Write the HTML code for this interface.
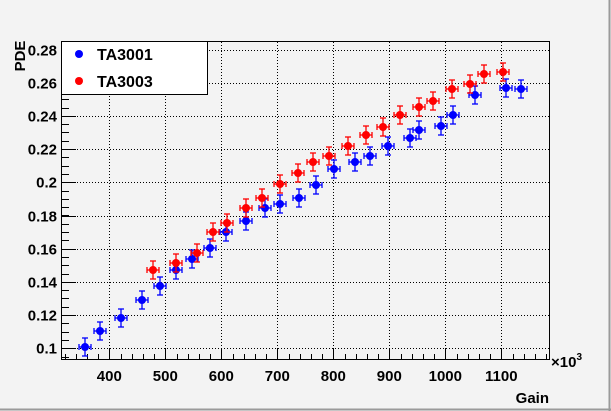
<!DOCTYPE html>
<html><head><style>body{margin:0;background:#f3f3f3}svg{display:block}</style></head>
<body>
<svg width="611" height="411" viewBox="0 0 611 411" xmlns="http://www.w3.org/2000/svg" font-family="Liberation Sans, sans-serif" font-weight="bold">
<rect width="611" height="411" fill="#f3f3f3"/>
<line x1="0" y1="409.5" x2="611" y2="409.5" stroke="#9a9a9a" stroke-width="2"/>
<line x1="609.5" y1="0" x2="609.5" y2="411" stroke="#9a9a9a" stroke-width="2"/>
<g id="grid" stroke="#000" stroke-width="1" stroke-dasharray="1,2"></g>
<rect x="61.5" y="41.5" width="488" height="318" fill="none" stroke="#000"/>
<g id="ticks" stroke="#000"></g>
<g id="labels" font-size="15" font-weight="bold"></g>
<text x="25" y="56" font-size="15" font-weight="bold" transform="rotate(-90 25 56)" text-anchor="middle">PDE</text>
<text x="549" y="403" font-size="15" font-weight="bold" text-anchor="end">Gain</text>
<text x="551" y="367" font-size="15" font-weight="bold">×10<tspan dy="-7" font-size="10">3</tspan></text>
<g id="data"></g>
<rect x="61.5" y="41.5" width="146" height="53" fill="#fff" stroke="#000"/>
<circle cx="79" cy="54" r="4" fill="#0000ff"/>
<circle cx="79" cy="81" r="4" fill="#ff0000"/>
<text x="97" y="60" font-size="16" font-weight="bold">TA3001</text>
<text x="97" y="87" font-size="16" font-weight="bold">TA3003</text>
</svg>
<script>
var ns="http://www.w3.org/2000/svg";
function el(p,t,a){var e=document.createElementNS(ns,t);for(var k in a)e.setAttribute(k,a[k]);document.getElementById(p).appendChild(e);return e;}
function X(v){return 109.3+(v-400)*0.56;}
function Y(v){return 348.3-(v-0.1)/0.02*33.2;}
for(var v=400;v<=1100;v+=100){var x=Math.round(X(v))+.5;el("grid","line",{x1:x,y1:42,x2:x,y2:359});el("ticks","line",{x1:x,y1:359,x2:x,y2:349});
var t=el("labels","text",{x:X(v),y:381,"text-anchor":"middle"});t.textContent=v;}
for(var v=320;v<1190;v+=20){if(v%100==0)continue;var x=Math.round(X(v))+.5;el("ticks","line",{x1:x,y1:359,x2:x,y2:354});}
for(var i=0;i<=9;i++){var v=0.1+i*0.02;var y=Math.round(Y(v))+.5;el("grid","line",{x1:62,y1:y,x2:549,y2:y});el("ticks","line",{x1:62,y1:y,x2:76,y2:y});
var t=el("labels","text",{x:57,y:y+5,"text-anchor":"end"});t.textContent=(Math.round(v*100)/100).toString();}
for(var v=0.095;v<0.285;v+=0.005){var y=Math.round(Y(v))+.5;if(y<42||y>359)continue;el("ticks","line",{x1:62,y1:y,x2:69,y2:y});}
var blue=[[85,347],[100,331],[121,318],[142,300],[160,286],[176,270],[192,259],[210,248],[226,232],[246,221],[265,208],[280,204],[299,198],[316,185],[334,169],[355,162],[370,156],[388,146],[410,138],[419,130],[441,126],[453,115],[475,95],[506,88],[521,89]];
var red=[[153,270],[176,263],[197,253],[213,232],[227,223],[246,208],[262,198],[280,184],[298,173],[313,162],[329,156],[348,146],[366,135],[383,127],[400,115],[419,107],[433,101],[452,89],[470,84],[484,74],[503,72]];
function draw(a,c){a.forEach(function(p){var x=p[0],y=p[1];
el("data","line",{x1:x,y1:y-9,x2:x,y2:y+9,stroke:c,"stroke-width":1.3});
el("data","line",{x1:x-3,y1:y-9,x2:x+3,y2:y-9,stroke:c,"stroke-width":1.3});
el("data","line",{x1:x-3,y1:y+9,x2:x+3,y2:y+9,stroke:c,"stroke-width":1.3});
el("data","line",{x1:x-6,y1:y,x2:x+6,y2:y,stroke:c,"stroke-width":1.3});
el("data","line",{x1:x-6,y1:y-3,x2:x-6,y2:y+3,stroke:c,"stroke-width":1.3});
el("data","line",{x1:x+6,y1:y-3,x2:x+6,y2:y+3,stroke:c,"stroke-width":1.3});
el("data","circle",{cx:x,cy:y,r:4,fill:c});});}
draw(blue,"#0000ff");draw(red,"#ff0000");
</script>
</body></html>
